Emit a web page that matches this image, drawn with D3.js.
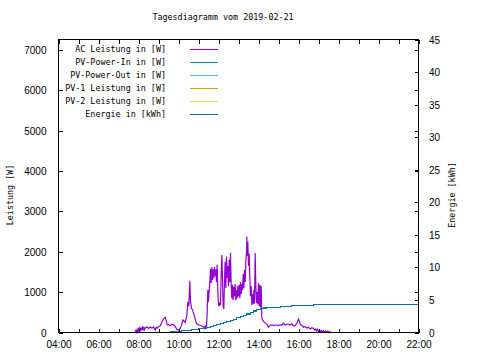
<!DOCTYPE html>
<html>
<head>
<meta charset="utf-8">
<script src="https://cdn.jsdelivr.net/npm/d3@7"></script>
<style>
  body { margin: 0; background: #fff; }
  svg { display: block; font-family: "DejaVu Sans Mono", monospace; font-size: 8.4px; }
  .axis path { display: none; }
  .axis line { stroke: #000; shape-rendering: crispEdges; }
  .axis text { fill: #000; }
</style>
</head>
<body>
<svg id="chart" width="480" height="360"></svg>
<script>
// AC power [W]
const acTimes = ["07:50","07:52","07:54","07:56","07:58","08:00","08:02","08:04","08:06","08:08","08:10","08:12","08:14","08:16","08:18","08:20","08:25","08:30","08:35","08:40","08:45","08:50","08:53","08:56","09:00","09:05","09:10","09:15","09:20","09:23","09:26","09:30","09:35","09:40","09:45","09:50","09:55","10:00","10:05","10:10","10:13","10:16","10:20","10:25","10:28","10:31","10:34","10:36","10:39","10:42","10:45","10:48","10:51","10:54","10:57","11:00","11:05","11:10","11:15","11:18","11:20","11:22",
  "11:24","11:26","11:28","11:30","11:32","11:34","11:36","11:38","11:40","11:42","11:44","11:46","11:48","11:50","11:52","11:54","11:56","11:58","12:00","12:02","12:04","12:06","12:08","12:10","12:12","12:14","12:16","12:18","12:20","12:22","12:24","12:26","12:28","12:30","12:32","12:34","12:36","12:38","12:40","12:42","12:44","12:46","12:48","12:50","12:52","12:54","12:56","12:58","13:00","13:02","13:04","13:06","13:08","13:10","13:12","13:14","13:16","13:18","13:20","13:22","13:24","13:25","13:26","13:28","13:30","13:32","13:34","13:36","13:38","13:40","13:42","13:44","13:46","13:48","13:50","13:52","13:54","13:56","13:58","14:00","14:02","14:04","14:06","14:08","14:10",
  "14:13","14:16","14:20","14:25","14:30","14:35","14:40","14:45","14:50","14:55","15:00","15:05","15:10","15:15","15:20","15:25","15:30","15:35","15:40","15:45","15:50","15:55","16:00","16:03","16:06","16:10","16:15","16:20","16:25","16:30","16:35","16:40","16:45","16:48","16:51","16:54","16:57","17:00","17:03","17:06","17:09","17:12","17:15","17:18","17:21","17:24","17:27","17:30","17:33","17:36","17:38"];
const acValues = [0,50,10,70,20,90,40,110,60,120,50,130,80,140,70,110,140,100,135,110,140,60,130,110,150,160,260,330,380,300,190,200,170,200,190,150,80,60,100,200,310,290,250,420,760,650,1280,780,600,560,480,400,300,220,200,190,180,160,140,100,160,140,
  150,480,1050,760,1040,1250,1580,1230,1620,1300,1560,1350,1620,1400,1560,1250,1680,1000,700,650,750,680,1450,1920,1350,650,580,1300,1750,1100,1880,1350,1650,1150,1800,1250,1970,1200,850,1180,800,1130,900,1200,800,1050,850,1150,900,1180,850,1250,950,1200,1050,1450,1100,1550,1250,1750,2000,2370,1900,2250,1650,1950,1350,900,1150,680,950,700,1050,720,1970,1150,730,1000,700,1220,650,1180,620,1150,360,
  300,270,240,200,130,180,190,170,190,180,170,190,180,230,180,210,200,180,220,160,170,230,330,270,190,180,130,150,110,130,90,120,100,60,90,40,80,30,60,10,50,20,45,5,40,10,35,0,30,5,0];

// Energie [kWh], counter steps
const eTimes = ["08:50","09:35","10:10","10:40","11:00","11:25","11:35","11:45","11:55","12:05","12:15","12:25","12:35","12:45","12:55","13:05","13:15","13:25","13:35","13:45","13:55","14:05","14:15","14:25","14:45","15:05","15:40","16:10","16:45","22:00"];
const eValues = [0.05,0.15,0.3,0.45,0.6,0.75,0.9,1.05,1.25,1.4,1.55,1.7,1.9,2.05,2.25,2.45,2.65,2.85,3.1,3.3,3.5,3.65,3.75,3.85,3.9,4.0,4.1,4.15,4.25,4.25];

// PV series carry no visible data on this day
const pvInValues = [];
const pvOutValues = [];
const pv1Values = [];
const pv2Values = [];

const legendNames = ["AC Leistung in [W]", "PV-Power-In in [W]", "PV-Power-Out in [W]", "PV-1 Leistung in [W]", "PV-2 Leistung in [W]", "Energie in [kWh]"];
const legendColors = ["#9400d3", "#009e73", "#56b4e9", "#e69f00", "#f0e442", "#0072b2"];

const leftTicks = [0, 1000, 2000, 3000, 4000, 5000, 6000, 7000];
const rightTicks = [0, 5, 10, 15, 20, 25, 30, 35, 40, 45];

const day = "2019-02-21";
const parse = d3.timeParse("%Y-%m-%d %H:%M");
const t = s => parse(day + " " + s);

const plotLeft = 58.5, plotRight = 418.5, plotTop = 39.5, plotBottom = 332.5;

const svg = d3.select("#chart");

const x = d3.scaleTime().domain([t("04:00"), t("22:00")]).range([plotLeft, plotRight]);
const y = d3.scaleLinear().domain([0, 7260]).range([plotBottom, plotTop]);
const y2 = d3.scaleLinear().domain([0, 45]).range([plotBottom, plotTop]);

// title
svg.append("text").attr("x", 223).attr("y", 20).attr("text-anchor", "middle")
   .text("Tagesdiagramm vom " + day);

// data lines
const acData = acTimes.map((s, i) => [t(s), acValues[i]]);
const eData = eTimes.map((s, i) => [t(s), eValues[i]]);

const lineY = d3.line().x(d => x(d[0])).y(d => y(d[1]));
const lineE = d3.line().x(d => x(d[0])).y(d => y2(d[1])).curve(d3.curveStepAfter);

[pvInValues, pvOutValues, pv1Values, pv2Values].forEach((vals, i) => {
    svg.append("path").datum(vals).attr("fill", "none")
       .attr("stroke", legendColors[i + 1]).attr("d", lineY);
});

svg.append("path").datum(acData)
   .attr("fill", "none").attr("stroke", legendColors[0]).attr("stroke-width", 1.2)
   .attr("d", lineY);

svg.append("path").datum(eData)
   .attr("fill", "none").attr("stroke", legendColors[5]).attr("stroke-width", 1.2)
   .attr("shape-rendering", "crispEdges")
   .attr("d", lineE);

// axes, ticks pointing inward like gnuplot
const hours = d3.timeHour.every(1);
const twoHours = d3.timeHour.every(2);

svg.append("g").attr("class", "axis").attr("transform", `translate(0,${plotBottom})`)
   .call(d3.axisBottom(x).ticks(hours).tickSize(-4).tickFormat(""));
svg.append("g").attr("class", "axis").attr("transform", `translate(0,${plotTop})`)
   .call(d3.axisTop(x).ticks(hours).tickSize(-4).tickFormat(""));

const xLab = svg.append("g").attr("class", "axis").attr("transform", `translate(0,${plotBottom})`)
   .call(d3.axisBottom(x).ticks(twoHours).tickSize(0).tickFormat(d3.timeFormat("%H:%M")));
xLab.selectAll("text").attr("y", 15).attr("dy", 0);

svg.append("g").attr("class", "axis").attr("transform", `translate(${plotLeft},0)`)
   .call(d3.axisLeft(y).tickValues(leftTicks).tickSize(-4).tickPadding(12).tickFormat(d3.format("d")))
   .selectAll("text").attr("dy", "0.35em");

// mirrored left ticks on the right border
svg.append("g").attr("class", "axis").attr("transform", `translate(${plotRight},0)`)
   .call(d3.axisRight(y).tickValues(leftTicks).tickSize(-4).tickFormat(""));

svg.append("g").attr("class", "axis").attr("transform", `translate(${plotRight},0)`)
   .call(d3.axisRight(y2).tickValues(rightTicks).tickSize(-4).tickPadding(10.5))
   .selectAll("text").attr("dy", "0.35em");

// border
svg.append("rect").attr("x", plotLeft).attr("y", plotTop)
   .attr("width", plotRight - plotLeft).attr("height", plotBottom - plotTop)
   .attr("fill", "none").attr("stroke", "#000").attr("shape-rendering", "crispEdges");

// axis titles
svg.append("text").attr("transform", "translate(13,195) rotate(-90)")
   .attr("text-anchor", "middle").text("Leistung [W]");
svg.append("text").attr("transform", "translate(455,195) rotate(-90)")
   .attr("text-anchor", "middle").text("Energie [kWh]");

// legend
const legend = svg.append("g");
legendNames.forEach((name, i) => {
    const ly = 49 + i * 13;
    legend.append("text").attr("x", 166).attr("y", ly).attr("dy", "0.35em")
          .attr("text-anchor", "end").text(name);
    legend.append("line").attr("x1", 190).attr("x2", 218)
          .attr("y1", ly + 0.5).attr("y2", ly + 0.5)
          .attr("stroke", legendColors[i]).attr("shape-rendering", "crispEdges");
});
</script>
</body>
</html>
